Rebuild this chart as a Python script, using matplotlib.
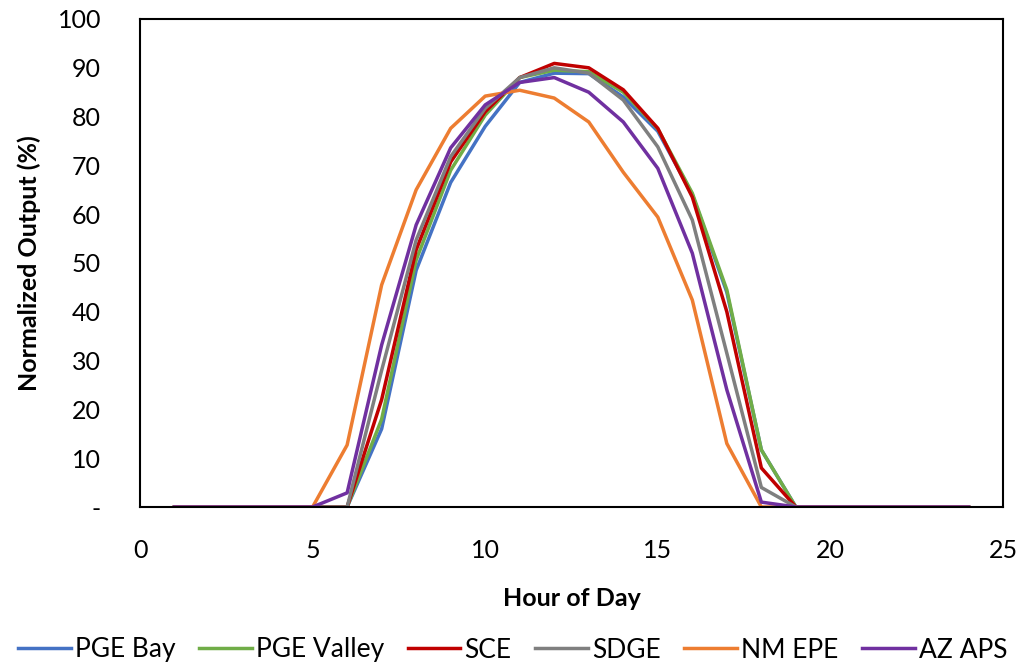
import matplotlib
matplotlib.use("Agg")
import matplotlib.pyplot as plt

hours = list(range(1, 25))
pge_bay =    [0,0,0,0,0,0,16,48.5,66.5,78,87,88.9,88.8,84,77,64,44,11.7,0,0,0,0,0,0]
pge_valley = [0,0,0,0,0,0,18,50.6,69,80.3,88,89.5,89.2,85,77.5,64.3,44.5,11.7,0,0,0,0,0,0]
sce =        [0,0,0,0,0,0,22,52.7,70.7,81,88,90.9,90,85.5,77.6,63.5,40,8,0,0,0,0,0,0]
sdge =       [0,0,0,0,0,0,28,54.7,71.8,81.7,88,90,88.9,83.4,73.8,58.8,31.5,4,0,0,0,0,0,0]
nm_epe =     [0,0,0,0,0,12.7,45.5,65,77.6,84.2,85.4,83.8,78.9,68.6,59.4,42.4,13,0,0,0,0,0,0,0]
az_aps =     [0,0,0,0,0,2.9,33.2,57.8,73.6,82.4,87,88,85,78.9,69.4,52,24,1,0,0,0,0,0,0]

names = ["PGE Bay", "PGE Valley", "SCE", "SDGE", "NM EPE", "AZ APS"]
series = [pge_bay, pge_valley, sce, sdge, nm_epe, az_aps]
colors = ["#4472C4", "#70AD47", "#C00000", "#7F7F7F", "#ED7D31", "#7030A0"]

yticks = [0, 10, 20, 30, 40, 50, 60, 70, 80, 90, 100]
ytick_labels = ["-"] + [str(v) for v in yticks[1:]]
xticks = [0, 5, 10, 15, 20, 25]

plt.rcParams['font.family'] = ['Lato', 'DejaVu Sans']
fig = plt.figure(figsize=(10.25, 6.68), dpi=100)
ax = fig.add_axes([140/1025, 1 - 507/668, (1003-140)/1025, (507-19)/668])

for name, vals, c in zip(names, series, colors):
    ax.plot(hours, vals, color=c, lw=2.5, label=name)

ax.set_xlim(0, 25)
ax.set_ylim(0, 100)
ax.set_xticks(xticks)
ax.set_yticks(yticks)
ax.set_yticklabels(ytick_labels)
ax.tick_params(length=0, labelsize=18)
ax.tick_params(axis="x", pad=23)
ax.tick_params(axis="y", pad=28)
for s in ax.spines.values():
    s.set_color("black")
    s.set_linewidth(1.5)

ax.set_xlabel("Hour of Day", fontsize=18, fontweight="bold", labelpad=18)
ax.set_ylabel("Normalized Output (%)", fontsize=18, fontweight="bold", labelpad=12)

leg = fig.legend(loc="center", bbox_to_anchor=(0.5, 1 - 650/668), ncol=6, frameon=False,
                 fontsize=19, handlelength=2.0, handletextpad=0.15, columnspacing=0.9)

fig.savefig("out.png", dpi=100)
